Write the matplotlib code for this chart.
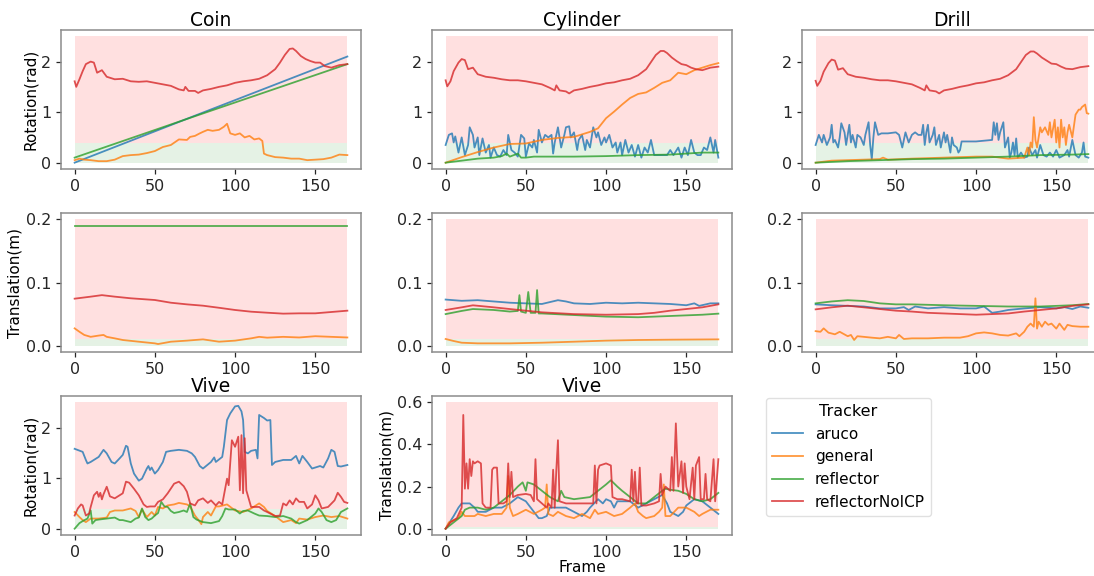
import numpy as np
import matplotlib.pyplot as plt

trackers = ['aruco', 'general', 'reflector', 'reflectorNoICP']
colors = ['tab:blue', 'tab:orange', 'tab:green', 'tab:red']
last_frame = 170

# umbrales (zona verde = bien, zona roja = mal)
rot_good, rot_top = 0.39, 2.5
trans_good, trans_top = 0.01, 0.2
vive_trans_top = 0.6

# ---------- Rotación (rad): (frame, valor) ----------
coin_rot_aruco = [(0, 0.0), (75, 0.93), (170, 2.1)]
coin_rot_general = [(0, 0.05), (3, 0.08), (6, 0.06), (10, 0.05), (15, 0.03), (20, 0.03), (25, 0.06),
                    (30, 0.13), (35, 0.15), (40, 0.16), (45, 0.19), (50, 0.23), (55, 0.31), (60, 0.35),
                    (65, 0.46), (70, 0.45), (72, 0.51), (75, 0.53), (78, 0.58), (80, 0.61), (83, 0.65),
                    (86, 0.63), (90, 0.65), (93, 0.71), (95, 0.77), (97, 0.58), (100, 0.55), (103, 0.58),
                    (106, 0.5), (109, 0.53), (112, 0.46), (115, 0.48), (117, 0.43), (118, 0.18),
                    (120, 0.15), (125, 0.11), (130, 0.1), (135, 0.08), (140, 0.08), (145, 0.05),
                    (150, 0.06), (155, 0.07), (160, 0.1), (165, 0.16), (170, 0.15)]
coin_rot_reflector = [(0, 0.1), (75, 0.92), (170, 1.95)]
coin_rot_noicp = [(0, 1.61), (1, 1.5), (3, 1.65), (5, 1.81), (7, 1.95), (10, 2.0), (12, 1.98), (14, 1.78),
                  (17, 1.83), (20, 1.7), (25, 1.65), (30, 1.66), (35, 1.61), (40, 1.6), (45, 1.61),
                  (50, 1.58), (55, 1.55), (60, 1.52), (65, 1.45), (68, 1.43), (69, 1.5), (71, 1.42),
                  (75, 1.42), (77, 1.38), (80, 1.43), (85, 1.46), (90, 1.5), (95, 1.53), (100, 1.58),
                  (105, 1.61), (110, 1.63), (115, 1.66), (120, 1.73), (125, 1.85), (128, 1.98),
                  (131, 2.13), (134, 2.25), (136, 2.26), (138, 2.21), (141, 2.11), (144, 2.05),
                  (147, 2.01), (150, 1.98), (153, 1.98), (156, 1.91), (160, 1.88), (165, 1.93), (170, 1.95)]

cyl_rot_aruco = [(0, 0.35), (2, 0.55), (4, 0.58), (5, 0.4), (6, 0.52), (8, 0.2), (10, 0.5), (12, 0.15),
                 (14, 0.35), (15, 0.7), (17, 0.55), (18, 0.3), (20, 0.5), (21, 0.15), (23, 0.48), (25, 0.2),
                 (27, 0.35), (28, 0.1), (30, 0.3), (32, 0.15), (34, 0.12), (36, 0.25), (38, 0.15), (39, 0.55),
                 (41, 0.25), (43, 0.2), (45, 0.12), (47, 0.55), (49, 0.48), (50, 0.12), (52, 0.38), (54, 0.3),
                 (55, 0.45), (57, 0.2), (58, 0.65), (60, 0.4), (62, 0.55), (64, 0.5), (66, 0.55), (67, 0.18),
                 (68, 0.4), (70, 0.7), (72, 0.3), (74, 0.55), (75, 0.7), (77, 0.72), (78, 0.5), (80, 0.6),
                 (82, 0.25), (83, 0.45), (85, 0.55), (87, 0.25), (88, 0.45), (90, 0.3), (92, 0.7), (94, 0.5),
                 (95, 0.6), (97, 0.35), (99, 0.5), (100, 0.4), (102, 0.55), (104, 0.3), (106, 0.4), (107, 0.2),
                 (109, 0.4), (110, 0.15), (112, 0.45), (114, 0.2), (116, 0.35), (118, 0.12), (120, 0.35),
                 (122, 0.1), (124, 0.3), (126, 0.2), (128, 0.45), (130, 0.15), (132, 0.15), (135, 0.15),
                 (138, 0.15), (140, 0.25), (142, 0.15), (145, 0.3), (147, 0.1), (149, 0.3), (151, 0.15),
                 (153, 0.45), (155, 0.2), (157, 0.15), (159, 0.15), (161, 0.3), (163, 0.25), (165, 0.5),
                 (167, 0.2), (168, 0.45), (170, 0.1)]
cyl_rot_general = [(0, 0.0), (10, 0.11), (20, 0.21), (30, 0.3), (40, 0.37), (50, 0.38), (60, 0.45),
                   (70, 0.49), (80, 0.51), (90, 0.61), (95, 0.68), (100, 0.88), (105, 1.01), (110, 1.15),
                   (115, 1.28), (120, 1.36), (125, 1.39), (130, 1.48), (135, 1.58), (140, 1.63),
                   (145, 1.78), (150, 1.75), (155, 1.83), (160, 1.88), (165, 1.93), (170, 1.97)]
cyl_rot_reflector = [(0, 0.0), (10, 0.04), (20, 0.08), (30, 0.1), (35, 0.13), (38, 0.18), (40, 0.12),
                     (45, 0.18), (47, 0.1), (50, 0.1), (55, 0.12), (60, 0.12), (80, 0.12), (100, 0.13),
                     (120, 0.15), (140, 0.16), (150, 0.18), (160, 0.2), (170, 0.2)]
cyl_rot_noicp = [(0, 1.63), (1, 1.51), (3, 1.61), (5, 1.81), (8, 1.98), (10, 2.05), (12, 2.03), (14, 1.85),
                 (17, 1.88), (20, 1.75), (25, 1.7), (30, 1.68), (35, 1.65), (40, 1.63), (45, 1.63),
                 (50, 1.61), (55, 1.58), (60, 1.55), (65, 1.48), (68, 1.43), (69, 1.53), (71, 1.43),
                 (75, 1.41), (77, 1.37), (80, 1.43), (85, 1.46), (90, 1.5), (95, 1.53), (100, 1.57),
                 (105, 1.59), (110, 1.63), (115, 1.66), (120, 1.73), (125, 1.85), (128, 1.99),
                 (131, 2.13), (134, 2.21), (136, 2.21), (138, 2.17), (141, 2.08), (144, 2.01),
                 (147, 1.95), (150, 1.93), (153, 1.88), (156, 1.85), (160, 1.83), (165, 1.88), (170, 1.9)]

drill_rot_aruco = [(0, 0.35), (2, 0.55), (4, 0.4), (5, 0.55), (7, 0.35), (9, 0.5), (10, 0.75), (11, 0.4),
                   (12, 0.45), (14, 0.3), (15, 0.5), (16, 0.78), (18, 0.6), (19, 0.35), (21, 0.75), (22, 0.4),
                   (23, 0.55), (25, 0.3), (26, 0.55), (28, 0.5), (30, 0.35), (31, 0.55), (33, 0.8), (34, 0.35),
                   (35, 0.07), (36, 0.5), (37, 0.8), (39, 0.55), (41, 0.58), (45, 0.58), (50, 0.6), (52, 0.55),
                   (54, 0.3), (56, 0.6), (58, 0.4), (60, 0.55), (62, 0.6), (64, 0.55), (66, 0.55), (67, 0.75),
                   (68, 0.35), (69, 0.6), (70, 0.75), (71, 0.4), (73, 0.55), (74, 0.7), (75, 0.35), (77, 0.55),
                   (78, 0.3), (80, 0.6), (81, 0.4), (82, 0.55), (84, 0.2), (85, 0.5), (86, 0.35), (88, 0.3),
                   (89, 0.2), (90, 0.25), (91, 0.42), (100, 0.42), (110, 0.45), (111, 0.8), (112, 0.55),
                   (113, 0.78), (114, 0.45), (115, 0.6), (117, 0.8), (118, 0.3), (120, 0.5), (121, 0.1),
                   (122, 0.2), (123, 0.4), (124, 0.15), (125, 0.48), (126, 0.1), (128, 0.2), (130, 0.1),
                   (132, 0.12), (133, 0.3), (135, 0.15), (137, 0.25), (138, 0.1), (140, 0.35), (142, 0.15),
                   (144, 0.12), (146, 0.2), (148, 0.12), (150, 0.25), (152, 0.1), (155, 0.15), (157, 0.25),
                   (158, 0.12), (160, 0.45), (162, 0.15), (164, 0.1), (166, 0.2), (167, 0.4), (168, 0.12),
                   (170, 0.1)]
drill_rot_general = [(0, 0.0), (10, 0.04), (20, 0.05), (30, 0.06), (40, 0.07), (42, 0.1), (45, 0.06),
                     (60, 0.08), (80, 0.1), (100, 0.12), (110, 0.12), (115, 0.1), (120, 0.08), (130, 0.1),
                     (131, 0.2), (132, 0.3), (133, 0.15), (134, 0.4), (135, 0.3), (136, 0.9), (137, 0.45),
                     (138, 0.3), (140, 0.7), (141, 0.6), (143, 0.7), (145, 0.55), (146, 0.8), (147, 0.5),
                     (149, 0.85), (150, 0.4), (151, 0.7), (152, 0.3), (153, 0.85), (154, 0.5), (155, 0.7),
                     (156, 0.35), (157, 0.6), (158, 0.75), (160, 0.5), (162, 0.95), (163, 1.0), (164, 1.05),
                     (165, 1.05), (166, 1.1), (168, 1.15), (169, 0.98), (170, 0.97)]
drill_rot_reflector = [(0, 0.0), (20, 0.03), (40, 0.05), (60, 0.07), (80, 0.08), (100, 0.1), (120, 0.12),
                       (140, 0.15), (160, 0.16), (170, 0.17)]
drill_rot_noicp = [(0, 1.62), (1, 1.52), (3, 1.62), (5, 1.8), (8, 1.97), (10, 2.04), (12, 2.02), (14, 1.84),
                   (17, 1.87), (20, 1.75), (25, 1.7), (30, 1.68), (35, 1.65), (40, 1.63), (45, 1.63),
                   (50, 1.61), (55, 1.58), (60, 1.55), (65, 1.48), (68, 1.43), (69, 1.53), (71, 1.43),
                   (75, 1.41), (77, 1.37), (80, 1.43), (85, 1.46), (90, 1.5), (95, 1.53), (100, 1.57),
                   (105, 1.59), (110, 1.63), (115, 1.66), (120, 1.73), (125, 1.85), (128, 1.99),
                   (131, 2.13), (134, 2.2), (136, 2.2), (138, 2.16), (141, 2.08), (144, 2.02),
                   (147, 1.96), (150, 1.95), (153, 1.9), (156, 1.86), (160, 1.85), (165, 1.89), (170, 1.91)]

# ---------- Traslación (m) ----------
coin_trans_general = [(0, 0.0274), (3, 0.022), (6, 0.017), (10, 0.014), (15, 0.016), (18, 0.017), (20, 0.014),
                      (25, 0.0116), (30, 0.009), (40, 0.0063), (50, 0.0037), (52, 0.0026), (60, 0.0063),
                      (70, 0.008), (80, 0.01), (90, 0.0063), (100, 0.008), (110, 0.0116), (115, 0.014),
                      (120, 0.0127), (130, 0.014), (140, 0.013), (150, 0.015), (160, 0.014), (170, 0.013)]
coin_trans_reflector = [(0, 0.19), (170, 0.19)]
coin_trans_noicp = [(0, 0.0744), (10, 0.0776), (17, 0.080), (25, 0.0776), (35, 0.075), (50, 0.0723),
                    (60, 0.068), (70, 0.0654), (80, 0.0633), (90, 0.060), (100, 0.0565), (110, 0.0538),
                    (120, 0.0522), (130, 0.0507), (140, 0.0512), (150, 0.0512), (160, 0.0533), (170, 0.0554)]

cyl_trans_aruco = [(0, 0.073), (10, 0.071), (20, 0.072), (30, 0.070), (40, 0.068), (50, 0.067), (60, 0.066),
                   (70, 0.072), (75, 0.070), (80, 0.067), (90, 0.066), (100, 0.068), (110, 0.067),
                   (120, 0.068), (130, 0.067), (140, 0.066), (150, 0.064), (155, 0.067), (158, 0.063),
                   (165, 0.067), (170, 0.067)]
cyl_trans_general = [(0, 0.0106), (5, 0.0074), (10, 0.0047), (20, 0.0037), (40, 0.0037), (60, 0.0047),
                     (80, 0.0063), (100, 0.008), (120, 0.009), (140, 0.0095), (170, 0.01)]
cyl_trans_reflector = [(0, 0.050), (10, 0.055), (17, 0.058), (30, 0.0565), (40, 0.054), (45, 0.055),
                       (46, 0.080), (47, 0.054), (50, 0.052), (51.5, 0.085), (53, 0.052), (56, 0.052),
                       (57, 0.088), (58, 0.051), (60, 0.051), (80, 0.0485), (100, 0.046), (120, 0.045),
                       (140, 0.047), (160, 0.049), (170, 0.0507)]
cyl_trans_noicp = [(0, 0.0565), (10, 0.0607), (17, 0.0639), (30, 0.0607), (40, 0.058), (50, 0.0554),
                   (60, 0.0528), (80, 0.050), (100, 0.049), (120, 0.050), (130, 0.052), (140, 0.0554),
                   (150, 0.058), (160, 0.0607), (170, 0.0654)]

drill_trans_aruco = [(0, 0.0654), (10, 0.064), (20, 0.063), (30, 0.062), (40, 0.059), (50, 0.059),
                     (55, 0.061), (58, 0.0565), (62, 0.062), (70, 0.059), (80, 0.061), (90, 0.059),
                     (100, 0.059), (105, 0.062), (110, 0.052), (115, 0.054), (120, 0.0565), (130, 0.059),
                     (140, 0.061), (150, 0.059), (155, 0.061), (160, 0.058), (165, 0.062), (170, 0.060)]
drill_trans_general = [(0, 0.023), (3, 0.022), (5, 0.0274), (8, 0.0206), (12, 0.018), (15, 0.022),
                       (20, 0.015), (22, 0.017), (24, 0.009), (26, 0.015), (30, 0.014), (35, 0.0127),
                       (40, 0.0116), (45, 0.014), (50, 0.0116), (52, 0.017), (55, 0.0106), (60, 0.0116),
                       (70, 0.0116), (80, 0.0127), (90, 0.0127), (95, 0.015), (100, 0.0195), (105, 0.021),
                       (110, 0.0195), (115, 0.017), (120, 0.016), (125, 0.0195), (127, 0.015), (130, 0.022),
                       (132, 0.030), (134, 0.035), (136, 0.030), (137, 0.075), (138, 0.027), (139, 0.038),
                       (141, 0.030), (143, 0.038), (145, 0.033), (147, 0.035), (150, 0.027), (152, 0.035),
                       (155, 0.025), (157, 0.033), (160, 0.031), (165, 0.030), (170, 0.030)]
drill_trans_reflector = [(0, 0.067), (10, 0.070), (20, 0.072), (30, 0.0707), (40, 0.067), (50, 0.0654),
                         (60, 0.0654), (80, 0.064), (100, 0.063), (120, 0.062), (140, 0.062), (160, 0.064),
                         (170, 0.066)]
drill_trans_noicp = [(0, 0.0575), (10, 0.0607), (20, 0.0633), (30, 0.0607), (40, 0.058), (50, 0.0554),
                     (60, 0.054), (70, 0.052), (80, 0.051), (90, 0.050), (100, 0.049), (110, 0.050),
                     (120, 0.051), (130, 0.054), (140, 0.0565), (150, 0.059), (160, 0.063), (170, 0.0654)]

# ---------- Vive ----------
vive_rot_aruco = [(0, 1.58), (5, 1.52), (7, 1.36), (8, 1.29), (10, 1.32), (15, 1.42), (18, 1.56), (20, 1.49),
                  (23, 1.32), (25, 1.29), (28, 1.39), (30, 1.46), (32, 1.64), (33, 1.62), (35, 1.29),
                  (37, 1.09), (40, 0.95), (42, 0.99), (45, 1.19), (46, 1.24), (47, 1.16), (48, 1.21),
                  (50, 1.09), (52, 1.16), (55, 1.32), (57, 1.52), (60, 1.54), (65, 1.56), (70, 1.54),
                  (73, 1.49), (75, 1.42), (78, 1.24), (80, 1.19), (85, 1.32), (87, 1.41), (88, 1.32),
                  (92, 1.42), (93, 1.62), (95, 2.15), (97, 2.28), (100, 2.42), (102, 2.43), (104, 2.32),
                  (105, 2.15), (106, 1.52), (108, 1.49), (110, 1.54), (113, 1.56), (114, 1.39), (115, 2.25),
                  (118, 2.19), (120, 2.14), (122, 2.15), (123, 1.26), (125, 1.32), (130, 1.36), (135, 1.36),
                  (138, 1.44), (140, 1.29), (142, 1.44), (145, 1.32), (148, 1.19), (150, 1.21), (153, 1.24),
                  (155, 1.21), (158, 1.39), (160, 1.56), (162, 1.52), (164, 1.24), (166, 1.23), (170, 1.26)]
vive_rot_general = [(0, 0.33), (3, 0.23), (5, 0.17), (7, 0.13), (10, 0.2), (15, 0.2), (20, 0.22), (22, 0.33),
                    (25, 0.36), (30, 0.36), (35, 0.4), (38, 0.35), (40, 0.23), (42, 0.38), (45, 0.23),
                    (48, 0.33), (50, 0.26), (52, 0.43), (55, 0.4), (58, 0.46), (62, 0.48), (65, 0.51),
                    (70, 0.48), (72, 0.44), (75, 0.26), (77, 0.18), (79, 0.09), (80, 0.23), (83, 0.33),
                    (85, 0.26), (88, 0.44), (90, 0.44), (95, 0.48), (100, 0.36), (105, 0.33), (110, 0.4),
                    (113, 0.46), (115, 0.5), (118, 0.43), (120, 0.35), (125, 0.25), (130, 0.13), (135, 0.17),
                    (138, 0.11), (140, 0.2), (145, 0.18), (150, 0.23), (155, 0.26), (160, 0.23), (165, 0.25),
                    (170, 0.2)]
vive_rot_reflector = [(0, 0.0), (3, 0.11), (5, 0.15), (8, 0.2), (10, 0.36), (11, 0.1), (13, 0.17), (15, 0.18),
                      (20, 0.2), (25, 0.22), (28, 0.17), (30, 0.17), (35, 0.13), (38, 0.2), (40, 0.22),
                      (42, 0.4), (44, 0.23), (46, 0.17), (48, 0.2), (50, 0.26), (52, 0.31), (54, 0.53),
                      (56, 0.44), (58, 0.43), (60, 0.35), (62, 0.31), (65, 0.33), (68, 0.36), (70, 0.33),
                      (72, 0.5), (74, 0.23), (76, 0.18), (80, 0.13), (85, 0.11), (90, 0.15), (92, 0.25),
                      (94, 0.4), (96, 0.38), (100, 0.38), (103, 0.3), (105, 0.35), (108, 0.36), (112, 0.3),
                      (115, 0.26), (120, 0.25), (125, 0.23), (130, 0.25), (135, 0.2), (138, 0.13), (140, 0.1),
                      (145, 0.17), (150, 0.3), (152, 0.4), (154, 0.33), (157, 0.17), (160, 0.13), (163, 0.17),
                      (166, 0.33), (170, 0.4)]
vive_rot_noicp = [(0, 0.26), (2, 0.4), (4, 0.48), (5, 0.46), (7, 0.26), (9, 0.3), (10, 0.43), (12, 0.66),
                  (14, 0.73), (15, 0.63), (16, 0.71), (17, 0.58), (18, 0.68), (20, 0.83), (22, 0.64),
                  (25, 0.6), (28, 0.66), (30, 0.7), (32, 0.93), (34, 0.91), (37, 0.79), (40, 0.66),
                  (43, 0.48), (45, 0.43), (47, 0.44), (50, 0.44), (52, 0.53), (55, 0.58), (58, 0.7),
                  (62, 0.89), (65, 0.93), (68, 0.84), (70, 0.73), (72, 0.5), (75, 0.46), (77, 0.56),
                  (80, 0.6), (83, 0.51), (85, 0.56), (88, 0.46), (90, 0.53), (92, 0.48), (95, 0.99),
                  (96, 0.86), (98, 1.75), (100, 1.62), (102, 1.82), (103, 0.76), (104, 1.85), (105, 0.7),
                  (106, 1.79), (107, 0.76), (110, 0.43), (115, 0.43), (118, 0.36), (120, 0.33), (125, 0.25),
                  (128, 0.26), (130, 0.5), (132, 0.46), (134, 0.56), (136, 0.48), (138, 0.6), (140, 0.53),
                  (143, 0.53), (145, 0.4), (148, 0.48), (150, 0.66), (152, 0.56), (154, 0.4), (158, 0.43),
                  (162, 0.56), (164, 0.71), (166, 0.63), (168, 0.53), (170, 0.51)]

vive_trans_aruco = [(0, 0.0), (5, 0.06), (8, 0.1), (10, 0.12), (15, 0.12), (18, 0.1), (20, 0.08), (25, 0.08),
                    (30, 0.1), (35, 0.1), (40, 0.12), (45, 0.15), (50, 0.13), (55, 0.08), (58, 0.05),
                    (60, 0.05), (63, 0.06), (65, 0.1), (70, 0.1), (75, 0.1), (80, 0.08), (85, 0.06),
                    (88, 0.08), (90, 0.1), (95, 0.14), (98, 0.12), (100, 0.14), (103, 0.13), (105, 0.1),
                    (107, 0.13), (110, 0.13), (115, 0.13), (120, 0.1), (125, 0.12), (130, 0.14), (135, 0.16),
                    (138, 0.12), (140, 0.08), (145, 0.06), (148, 0.08), (150, 0.11), (155, 0.14), (160, 0.13),
                    (165, 0.1), (170, 0.07)]
vive_trans_general = [(0, 0.0), (2, 0.03), (5, 0.04), (8, 0.05), (10, 0.08), (12, 0.06), (15, 0.06),
                      (18, 0.06), (20, 0.07), (25, 0.06), (30, 0.07), (35, 0.07), (38, 0.1), (39, 0.25),
                      (40, 0.1), (42, 0.06), (45, 0.07), (50, 0.09), (55, 0.07), (60, 0.09), (62, 0.1),
                      (63, 0.21), (64, 0.07), (67, 0.06), (70, 0.08), (75, 0.06), (80, 0.05), (85, 0.07),
                      (90, 0.05), (93, 0.09), (95, 0.07), (100, 0.08), (105, 0.06), (110, 0.07), (115, 0.1),
                      (118, 0.12), (120, 0.08), (123, 0.06), (125, 0.05), (130, 0.06), (133, 0.08), (135, 0.1),
                      (136, 0.21), (137, 0.06), (140, 0.06), (145, 0.1), (150, 0.1), (155, 0.08), (158, 0.06),
                      (160, 0.07), (165, 0.09), (170, 0.09)]
vive_trans_reflector = [(0, 0.0), (5, 0.03), (10, 0.06), (12, 0.09), (15, 0.1), (20, 0.1), (25, 0.09),
                        (30, 0.1), (35, 0.13), (40, 0.16), (45, 0.2), (48, 0.22), (50, 0.18), (51, 0.22),
                        (55, 0.21), (60, 0.18), (65, 0.15), (70, 0.13), (72, 0.18), (74, 0.15), (80, 0.14),
                        (90, 0.15), (95, 0.18), (100, 0.21), (103, 0.23), (107, 0.2), (110, 0.18), (115, 0.15),
                        (120, 0.12), (125, 0.12), (130, 0.15), (135, 0.18), (137, 0.19), (140, 0.185),
                        (145, 0.18), (150, 0.165), (155, 0.14), (160, 0.13), (165, 0.14), (170, 0.17)]
vive_trans_noicp = [(0, 0.0), (3, 0.03), (7, 0.05), (10, 0.1), (11, 0.54), (12, 0.19), (13, 0.31), (14, 0.19),
                    (15, 0.33), (16, 0.25), (17, 0.32), (18, 0.31), (20, 0.32), (22, 0.31), (23, 0.12),
                    (25, 0.1), (28, 0.1), (29, 0.28), (30, 0.29), (32, 0.29), (33, 0.12), (36, 0.12),
                    (38, 0.13), (39, 0.31), (40, 0.15), (41, 0.27), (42, 0.15), (45, 0.16), (50, 0.165),
                    (53, 0.16), (55, 0.13), (56, 0.33), (57, 0.14), (60, 0.12), (63, 0.1), (64, 0.12),
                    (66, 0.1), (67, 0.28), (68, 0.1), (69, 0.28), (70, 0.42), (71, 0.13), (75, 0.12),
                    (80, 0.12), (85, 0.12), (92, 0.12), (93, 0.3), (94, 0.12), (95, 0.28), (96, 0.3),
                    (100, 0.31), (103, 0.3), (104, 0.15), (107, 0.14), (110, 0.14), (115, 0.13), (116, 0.28),
                    (117, 0.13), (118, 0.27), (119, 0.12), (120, 0.12), (121, 0.29), (122, 0.11), (125, 0.11),
                    (130, 0.12), (133, 0.13), (134, 0.26), (135, 0.16), (137, 0.2), (140, 0.18), (141, 0.34),
                    (142, 0.18), (143.5, 0.5), (145, 0.2), (147, 0.32), (148, 0.17), (149, 0.31), (150, 0.2),
                    (152, 0.14), (154, 0.29), (155, 0.14), (156, 0.3), (158, 0.34), (159, 0.14), (161, 0.14),
                    (162, 0.26), (163, 0.14), (165, 0.13), (167, 0.33), (168, 0.13), (170, 0.33)]

# ==========================================
# Gráficos
# ==========================================
fig = plt.figure(figsize=(10.94, 5.76), dpi=100)

W, H = 1094.0, 576.0
col_left = [61, 432, 802]
row_top = [30, 213, 396]
ax_w, ax_h = 300, 139


def make_ax(r, c):
    return fig.add_axes([col_left[c] / W, 1 - (row_top[r] + ax_h) / H, ax_w / W, ax_h / H])


def panel(ax, series, good, top, yticks, ytick_fmt):
    frames = [0, last_frame]
    ax.fill_between(frames, good, top, color='red', alpha=0.12, lw=0)
    ax.fill_between(frames, 0, good, color='green', alpha=0.1, lw=0)
    lines = []
    for pts, col, name in zip(series, colors, trackers):
        if pts is None:
            continue
        f, v = np.array(pts, dtype=float).T
        ln, = ax.plot(f, v, color=col, alpha=0.8, lw=1.3, label=name)
        lines.append(ln)
    ax.set_xticks([0, 50, 100, 150])
    ax.set_yticks(yticks)
    ax.set_yticklabels([ytick_fmt.format(t) for t in yticks])
    for s in ax.spines.values():
        s.set_color('0.55')
        s.set_linewidth(1.1)
    ax.tick_params(labelsize=11.5, colors='0.15', length=3.5, width=0.9)
    return lines


rot_ticks = [0, 1, 2]
trans_ticks = [0.0, 0.1, 0.2]
title_kw = dict(fontsize=13.5, pad=3)
ylab_kw = dict(fontsize=11, labelpad=2)

ax = make_ax(0, 0)
panel(ax, [coin_rot_aruco, coin_rot_general, coin_rot_reflector, coin_rot_noicp], rot_good, rot_top, rot_ticks, '{:.0f}')
ax.set_title('Coin', **title_kw)
ax.set_ylabel('Rotation(rad)', **ylab_kw)

ax = make_ax(0, 1)
panel(ax, [cyl_rot_aruco, cyl_rot_general, cyl_rot_reflector, cyl_rot_noicp], rot_good, rot_top, rot_ticks, '{:.0f}')
ax.set_title('Cylinder', **title_kw)

ax = make_ax(0, 2)
panel(ax, [drill_rot_aruco, drill_rot_general, drill_rot_reflector, drill_rot_noicp], rot_good, rot_top, rot_ticks, '{:.0f}')
ax.set_title('Drill', **title_kw)

ax = make_ax(1, 0)
panel(ax, [None, coin_trans_general, coin_trans_reflector, coin_trans_noicp], trans_good, trans_top, trans_ticks, '{:.1f}')
ax.set_ylabel('Translation(m)', **ylab_kw)

ax = make_ax(1, 1)
panel(ax, [cyl_trans_aruco, cyl_trans_general, cyl_trans_reflector, cyl_trans_noicp], trans_good, trans_top, trans_ticks, '{:.1f}')

ax = make_ax(1, 2)
panel(ax, [drill_trans_aruco, drill_trans_general, drill_trans_reflector, drill_trans_noicp], trans_good, trans_top, trans_ticks, '{:.1f}')

ax = make_ax(2, 0)
panel(ax, [vive_rot_aruco, vive_rot_general, vive_rot_reflector, vive_rot_noicp], rot_good, rot_top, rot_ticks, '{:.0f}')
ax.set_title('Vive', **title_kw)
ax.set_ylabel('Rotation(rad)', **ylab_kw)

ax = make_ax(2, 1)
handles = panel(ax, [vive_trans_aruco, vive_trans_general, vive_trans_reflector, vive_trans_noicp],
                trans_good, vive_trans_top, [0.0, 0.2, 0.4, 0.6], '{:.1f}')
ax.set_title('Vive', **title_kw)
ax.set_ylabel('Translation(m)', **ylab_kw)
ax.set_xlabel('Frame', fontsize=11, labelpad=0)

leg = fig.legend(handles, trackers, title='Tracker', loc='upper left', bbox_to_anchor=(766 / W, 1 - 398 / H),
                 borderaxespad=0, fontsize=11, title_fontsize=11.5, frameon=True, framealpha=0.8,
                 edgecolor='0.85')

fig.savefig('out.png', dpi=100)
